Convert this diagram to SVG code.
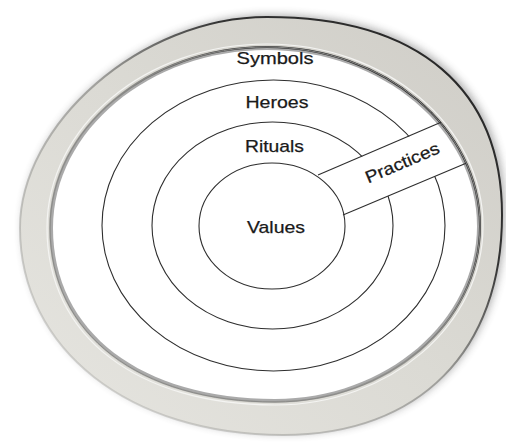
<svg xmlns="http://www.w3.org/2000/svg" width="506" height="442" viewBox="0 0 506 442">
  <style>
    .ring { fill: none; stroke: #2e2e2e; stroke-width: 1.1; }
    .lbl { font-family: "Liberation Sans", Arial, Helvetica, sans-serif; font-size: 17px; fill: #1a1a1a; stroke: #1a1a1a; stroke-width: 0.25; text-anchor: middle; }
  </style>
  <defs>
    <linearGradient id="frameFill" x1="1" y1="0" x2="0" y2="1">
      <stop offset="0" stop-color="#cfcdc7"/>
      <stop offset="0.5" stop-color="#dbdad4"/>
      <stop offset="1" stop-color="#e6e5e0"/>
    </linearGradient>
    <linearGradient id="edgeStroke" x1="0" y1="1" x2="1" y2="0">
      <stop offset="0" stop-color="#b0b0ac" stop-opacity="0.3"/>
      <stop offset="0.5" stop-color="#7a7a76" stop-opacity="0.6"/>
      <stop offset="0.7" stop-color="#333" stop-opacity="1"/>
      <stop offset="1" stop-color="#222" stop-opacity="1"/>
    </linearGradient>
    <filter id="shadow" x="-10%" y="-10%" width="120%" height="120%">
      <feGaussianBlur stdDeviation="4"/>
    </filter>
    <mask id="bandCut" maskUnits="userSpaceOnUse" x="0" y="0" width="506" height="442">
      <rect x="0" y="0" width="506" height="442" fill="#fff"/>
      <polygon points="290,187 502,97 527,137 315,227" fill="#000"/>
    </mask>
  </defs>

  <rect x="0" y="0" width="506" height="442" fill="#ffffff"/>

  <g id="frame">
    <path transform="translate(3,-2)" d="M267,17 C420,17 502,90 502,215 C502,350 420,435 283,435 C130,435 20,350 20,228 C20,125 140,17 267,17 Z" fill="#444" opacity="0.45" filter="url(#shadow)"/>
    <path fill-rule="evenodd" fill="url(#frameFill)" stroke="url(#edgeStroke)" stroke-width="2"
      d="M267,17 C420,17 502,90 502,215 C502,350 420,435 283,435 C130,435 20,350 20,228 C20,125 140,17 267,17 Z
         M267,47 C384,47 480,128 480,226 C480,323 388,402 275,402 C140,402 50,335 50,228 C50,128 148,47 267,47 Z"/>
    <path d="M267,50 C382,50 477,130 477,226 C477,321 386,399 275,399 C142,399 53,333 53,228 C53,130 150,50 267,50 Z" fill="#ffffff"/>
    <path d="M267,47 C384,47 480,128 480,226 C480,323 388,402 275,402 C140,402 50,335 50,228 C50,128 148,47 267,47 Z" fill="none" stroke="#8a8a88" stroke-width="1"/>
    <path d="M267,44 C386,44 483,126 483,226 C483,325 390,405 275,405 C138,405 47,337 47,228 C47,126 146,44 267,44 Z" fill="none" stroke="#f4f4f2" stroke-width="1.2"/>
  </g>

  <g id="symbols">
    <text class="lbl" x="275" y="64" textLength="77" lengthAdjust="spacingAndGlyphs">Symbols</text>
  </g>

  <g id="heroes">
    <ellipse class="ring" cx="273.5" cy="225.5" rx="171.5" ry="145.5" mask="url(#bandCut)"/>
    <text class="lbl" x="277" y="108" textLength="63" lengthAdjust="spacingAndGlyphs">Heroes</text>
  </g>

  <g id="rituals">
    <ellipse class="ring" cx="272.5" cy="225.5" rx="120.5" ry="103.5" mask="url(#bandCut)"/>
    <text class="lbl" x="274.5" y="152" textLength="59" lengthAdjust="spacingAndGlyphs">Rituals</text>
  </g>

  <g id="values">
    <ellipse class="ring" cx="272" cy="226" rx="73" ry="63"/>
    <text class="lbl" x="276" y="233" textLength="58" lengthAdjust="spacingAndGlyphs">Values</text>
  </g>

  <g id="practices">
    <line class="ring" x1="318" y1="175" x2="441" y2="122.3"/>
    <line class="ring" x1="343" y1="215" x2="466" y2="163.2"/>
    <text class="lbl" transform="translate(404.5,168) rotate(-23)" x="0" y="0" textLength="79" lengthAdjust="spacingAndGlyphs">Practices</text>
  </g>

  <g id="connectors"/>
</svg>
